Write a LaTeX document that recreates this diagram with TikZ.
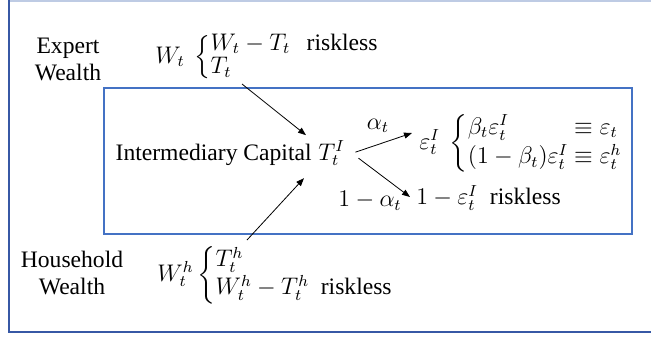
\documentclass[tikz,border=0pt]{standalone}
\usepackage{amsmath}
\usepackage{fontspec}
\setmainfont{Liberation Serif}
\usepackage{tikz}
\usetikzlibrary{arrows.meta, positioning}
\definecolor{boxblue}{RGB}{68,114,196}
\definecolor{frameblue}{RGB}{55,88,165}
\definecolor{framegray}{RGB}{190,203,228}
\tikzset{
  txt/.style={inner sep=1pt, font=\fontsize{11.8}{13.5}\selectfont},
  arrow/.style={-{Triangle[length=4pt,width=3pt]}, line width=0.4pt, black},
  frame/.style={frameblue, line width=1.2pt}
}

\begin{document}
\begin{tikzpicture}[x=0.5pt, y=-0.5pt]
  \useasboundingbox (0,0) rectangle (651,337);
  % outer frame (cut at the right)
  \draw[framegray, line width=1pt] (9,0.5) -- (651,0.5);
  \draw[frame] (9,0) -- (9,332) -- (651,332);
  % intermediary box
  \draw[boxblue, line width=0.9pt] (104,88) rectangle (632,234);

  \node[txt, align=center] (expert) at (68,59) {Expert\\Wealth};
  \node[txt, anchor=west] (expW) at (153,57)
    {$W_t\ \renewcommand{\arraystretch}{0.85}\left\{\begin{array}{@{}l@{\hspace{0.7em}}l}
      W_t - T_t & \text{riskless}\\ T_t & \end{array}\right.$};

  \node[txt, anchor=base east] (cap) at (314,160) {Intermediary Capital};
  \node[txt, anchor=base west] (capT) at ([xshift=1pt]cap.base east) {$T_t^I$};

  \node[txt] (alpha) at (378,126) {$\alpha_t$};
  \node[txt] (malpha) at (370,201) {$1-\alpha_t$};
  \node[txt, anchor=west] (epsI) at (417,143)
    {$\varepsilon_t^I\ \renewcommand{\arraystretch}{1.1}\left\{\begin{array}{@{}l@{\ }l}
      \beta_t\varepsilon_t^I & \equiv \varepsilon_t\\
      (1-\beta_t)\varepsilon_t^I & \equiv \varepsilon_t^h\end{array}\right.$};
  \node[txt, anchor=west] (riskI) at (414,198) {$1-\varepsilon_t^I$\ \ riskless};

  \node[txt, align=center] (house) at (72,273) {Household\\Wealth};
  \node[txt, anchor=west] (hhW) at (155,275)
    {$W_t^h\left\{\begin{array}{@{}l@{\ \ }l}
      T_t^h & \\ W_t^h - T_t^h & \text{riskless}\end{array}\right.$};

  \coordinate (expT) at (242,84);
  \coordinate (hhT) at (247,240);

  \draw[arrow] (expT) -- ([shift={(-10,-18)}]capT.west);
  \draw[arrow] (hhT) -- ([shift={(-12,25)}]capT.west);
  \draw[arrow] ([shift={(8,-1)}]capT.east) -- ([shift={(-5,-10)}]epsI.west);
  \draw[arrow] ([shift={(11,5)}]capT.east) -- ([shift={(-4,-1)}]riskI.west);
\end{tikzpicture}
\end{document}
